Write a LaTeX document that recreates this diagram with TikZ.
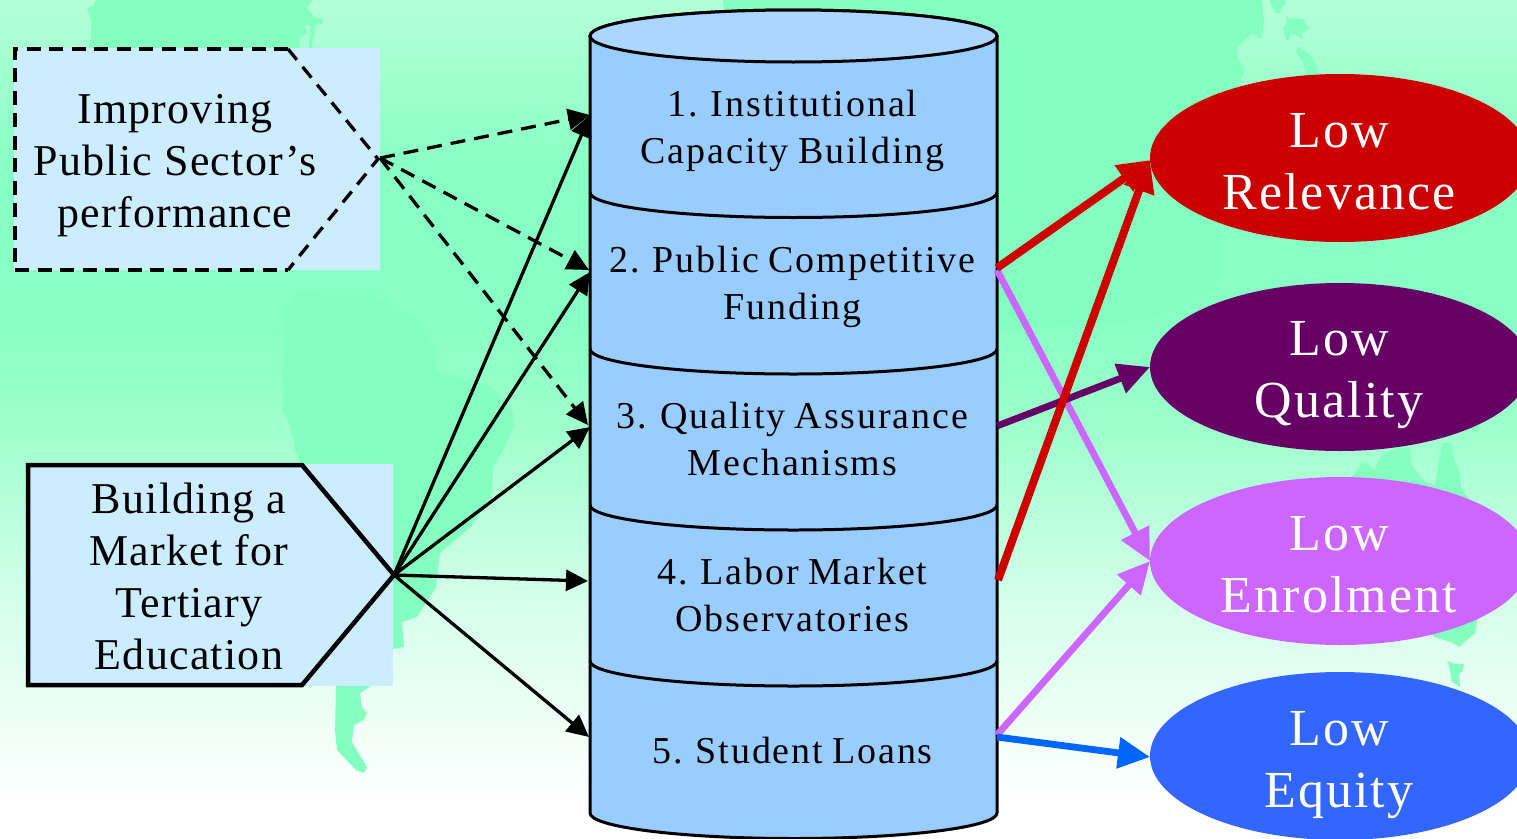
\documentclass[tikz,border=0pt]{standalone}
\usepackage{fontspec}
\setmainfont{Liberation Serif}
\newfontfamily\leftfont[LetterSpace=2.8]{Liberation Serif}
\newfontfamily\layerfont[LetterSpace=5,WordSpace=0.8]{Liberation Serif}
\newfontfamily\ovalfont[LetterSpace=4]{Liberation Serif}
\usetikzlibrary{arrows.meta,shapes.geometric}
\definecolor{landc}{HTML}{84FFC0}
\definecolor{bgtop}{HTML}{B4FFD8}
\definecolor{bgsat}{HTML}{88FFC4}
\definecolor{bgmid}{HTML}{9CFFCC}
\definecolor{bglow}{HTML}{D4FFEA}
\definecolor{boxc}{HTML}{CCECFF}
\definecolor{cylc}{HTML}{99CCFF}
\definecolor{cyltop}{HTML}{ABD6FF}
\definecolor{redc}{HTML}{CC0000}
\definecolor{purc}{HTML}{660066}
\definecolor{vioc}{HTML}{CC66FF}
\definecolor{bluc}{HTML}{3366FF}
\definecolor{bluar}{HTML}{0066FF}
\pgfdeclareverticalshading{bgshade}{100bp}{
 color(0bp)=(white);
 color(27.3bp)=(white);
 color(39.2bp)=(bglow);
 color(49.9bp)=(bgmid);
 color(55.9bp)=(bgsat);
 color(64.9bp)=(bgsat);
 color(75bp)=(bgtop);
 color(100bp)=(bgtop)}
\tikzset{
 land/.style={fill=landc,draw=none},
 lefttext/.style={font=\leftfont\fontsize{44}{52}\selectfont,align=center,text=black,inner sep=0pt},
 layertext/.style={font=\layerfont\fontsize{38}{47}\selectfont,align=center,text=black,inner sep=0pt},
 oval/.style={ellipse,minimum width=380pt,minimum height=168pt,inner sep=0pt,draw=none},
 ovaltext/.style={font=\ovalfont\fontsize{52}{62}\selectfont,align=center,text=white,inner sep=0pt},
 thintip/.style={-{Triangle[length=22pt,width=21pt]},line width=3.3pt,black},
 dashtip/.style={thintip,dash pattern=on 15pt off 9pt},
 thicktip/.style={-{Triangle[length=32pt,width=30pt]},line width=8pt},
 midtip/.style={-{Triangle[length=32pt,width=30pt]},line width=6.8pt},
}
\begin{document}
\begin{tikzpicture}[x=1pt,y=-1pt]
\useasboundingbox (0,0) rectangle (1517,838);
\begin{scope}
\clip (0,0) rectangle (1517,838);
% background
\node[inner sep=0pt,outer sep=0pt,minimum width=1517pt,minimum height=838pt,anchor=north west,shading=bgshade] (bg) at (0,0) {};
% map
\fill[land] (96,0) -- (94,5) -- (87,9) -- (91,20) -- (91,37) -- (88,50) -- (300,50) -- (300,38) -- (308,32) -- (304,26) -- (310,25) -- (309,50) -- (311,50) -- (316,24) -- (322,24) -- (323,19) -- (314,17) -- (307,8) -- (313,0) -- cycle;
\fill[land] (298,290) -- (287,310) -- (282,373) -- (284,393) -- (282,410) -- (288,420) -- (293,437) -- (295,450) -- (302,466) -- (336,686) -- (335,730) -- (337,750) -- (356,770) -- (364,773) -- (367,767) -- (352,742) -- (354,725) -- (364,720) -- (367,713) -- (362,707) -- (360,693) -- (371,686) -- (393,649) -- (404,647) -- (402,622) -- (417,617) -- (436,587) -- (440,553) -- (459,537) -- (471,527) -- (492,493) -- (493,467) -- (507,443) -- (513,427) -- (513,413) -- (493,387) -- (437,370) -- (437,350) -- (417,320) -- (367,293) -- cycle;
\fill[land] (723,0) -- (725,20) -- (997,330) -- (1150,320) -- (1215,290) -- (1239,85) -- (1245,70) -- (1237,58) -- (1237,47) -- (1253,33) -- (1257,38) -- (1262,38) -- (1264,20) -- (1262,0) -- cycle;
\fill[land] (725,10) rectangle (1000,330);
\fill[land] (1269,0) -- (1276,13) -- (1281,13) -- (1281,8) -- (1286,3) -- (1285,0) -- cycle;
\fill[land] (1286,16) -- (1287,23) -- (1283,28) -- (1286,40) -- (1289,40) -- (1291,33) -- (1303,39) -- (1302,32) -- (1309,29) -- (1303,19) -- (1293,18) -- (1290,19) -- cycle;
\fill[land] (1298,46) -- (1296,53) -- (1302,60) -- (1307,76) -- (1320,76) -- (1315,65) -- (1311,55) -- cycle;
\fill[land] (1352,477) -- (1362,463) -- (1367,463) -- (1374,470) -- (1382,455) -- (1396,448) -- (1410,448) -- (1412,465) -- (1425,482) -- (1435,485) -- (1442,443) -- (1452,443) -- (1454,460) -- (1459,468) -- (1461,487) -- (1469,500) -- (1477,620) -- (1475,633) -- (1459,647) -- (1451,642) -- (1434,637) -- cycle;
\fill[land] (1448,661) -- (1455,664) -- (1464,664) -- (1463,670) -- (1459,675) -- (1460,687) -- (1452,682) -- cycle;
\fill[land] (1476,428) circle[radius=4];
% source boxes
\fill[boxc] (14,48) rectangle (380,270);
\fill[boxc] (27,464) rectangle (393,686);
\draw[line width=4pt,dash pattern=on 14pt off 8.5pt,black] (288,49) -- (14.5,49) -- (14.5,270) -- (288,270);
\draw[line width=3.3pt,dash pattern=on 14pt off 9pt,black] (288,49) -- (378,159) -- (288,270);
\draw[line width=4.5pt,black] (28,465) -- (302,465) -- (394,575) -- (302,685) -- (28,685) -- cycle;
\node[lefttext] (imp) at (175,166) {Improving\\Public Sector’s\\performance};
\node[lefttext] (bld) at (189,576.5) {Building a\\Market for\\Tertiary\\Education};
\coordinate (impout) at (380,158);
\coordinate (bldout) at (394,575);
% cylinder
\draw[line width=3pt,fill=cylc] (590,36) -- (590,813) arc[start angle=180,end angle=0,x radius=203.5,y radius=25.5] -- (997,36) arc[start angle=0,end angle=-180,x radius=203.5,y radius=26] -- cycle;
\draw[line width=3pt,fill=cyltop] (793.5,36) ellipse[x radius=203.5,y radius=26];
\foreach \yy in {192.5,349,505,661}{
 \draw[line width=3pt] (590,\yy) arc[start angle=180,end angle=0,x radius=203.5,y radius=25];
}
\node[layertext] (l1) at (792.5,131) {1. Institutional\\Capacity Building};
\node[layertext] (l2) at (792.5,287) {2. Public Competitive\\Funding};
\node[layertext] (l3) at (792.5,439) {3. Quality Assurance\\Mechanisms};
\node[layertext] (l4) at (792.5,595) {4. Labor Market\\Observatories};
\node[layertext] (l5) at (792.5,751) {5. Student Loans};
% cylinder anchors
\coordinate (c1in) at (590,115);
\coordinate (c2in) at (589,270);
\coordinate (c2inb) at (590,272);
\coordinate (c3in) at (588,425);
\coordinate (c3inb) at (590,427);
\coordinate (c4in) at (588,581);
\coordinate (c5in) at (589,737);
\coordinate (c2out) at (997,268);
\coordinate (c2outb) at (997,270);
\coordinate (c3out) at (997,426);
\coordinate (c4out) at (998,580);
\coordinate (c5out) at (997,735);
\coordinate (c5outb) at (997,737);
% ovals
\node[oval,fill=redc] (o1) at (1340,158) {};
\node[oval,fill=purc] (o2) at (1340,367) {};
\node[oval,fill=vioc] (o3) at (1340,561) {};
\node[oval,fill=bluc] (o4) at (1340,756) {};
\node[ovaltext] (t1) at (1339,162) {Low\\Relevance};
\node[ovaltext] (t2) at (1339,375) {Low\\Quality};
\node[ovaltext] (t3) at (1339,565) {Low\\Enrolment};
\node[ovaltext] (t4) at (1339,765) {Low\\Equity};
\coordinate (o1a) at (1150,160);
\coordinate (o2a) at (1150,367);
\coordinate (o3a) at (1150,561);
\coordinate (o4a) at (1150,757);
% arrows left
\foreach \e in {c1in,c2in,c3in}{\draw[dashtip] (impout) -- (\e);}
\foreach \e in {c1in,c2inb,c3inb,c4in,c5in}{\draw[thintip] (bldout) -- (\e);}
% arrows right
\draw[midtip,vioc] (c2outb) -- (o3a);
\draw[midtip,vioc] (c5out) -- (o3a);
\draw[midtip,bluar] (c5outb) -- (o4a);
\draw[midtip,purc] (c3out) -- (o2a);
\draw[thicktip,redc] (c2out) -- (o1a);
\draw[thicktip,redc] (c4out) -- (o1a);
\end{scope}
\end{tikzpicture}
\end{document}
